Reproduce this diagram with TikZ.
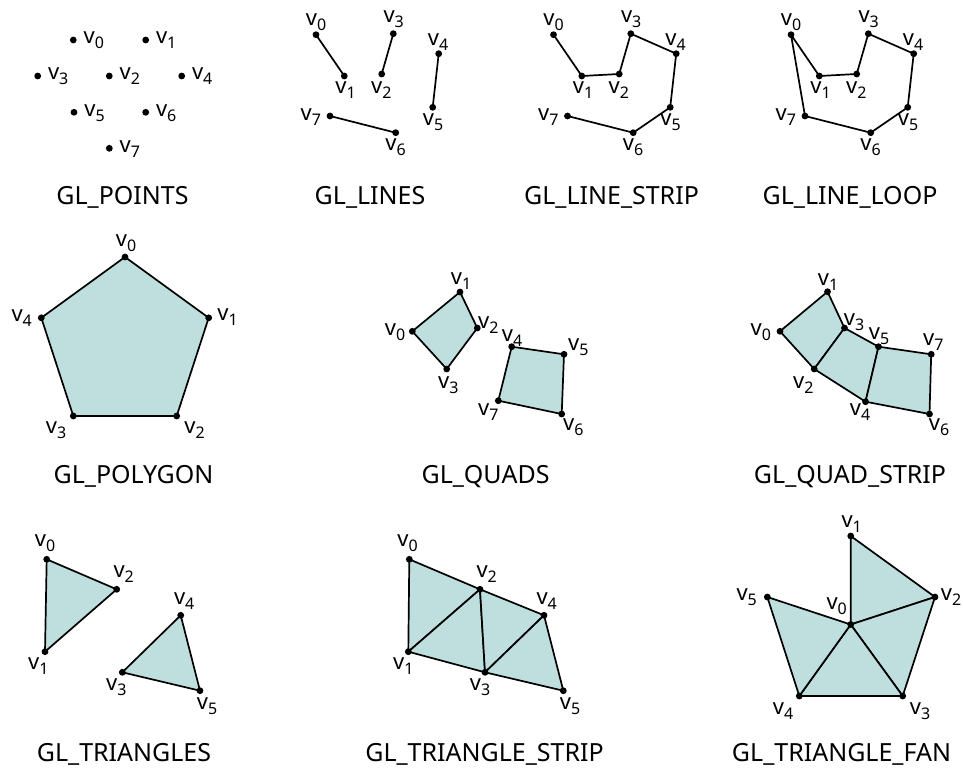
\documentclass[tikz,border=0pt]{standalone}
\usepackage{fontspec}
\setmainfont{Noto Sans}
\definecolor{fillc}{RGB}{191,223,222}
\tikzset{
  edge/.style={line width=1.7pt, line join=round, line cap=round},
  face/.style={fill=fillc, draw=black, line width=1.7pt, line join=round},
  lab/.style={inner sep=0pt, font=\fontsize{22}{22}\selectfont},
  gltitle/.style={inner sep=0pt, anchor=base, font=\fontsize{25}{25}\selectfont},
}
\newcommand{\vv}[1]{v\raisebox{-5pt}{\fontsize{16}{16}\selectfont #1}}
\newcommand{\vtxdots}[1]{\foreach \p in {#1} {\fill (\p) circle (3.4pt);}}
\newcommand{\linesetup}[1]{%
  \coordinate (#10) at (316,34.7);
  \coordinate (#11) at (344.3,76);
  \coordinate (#12) at (381.7,74);
  \coordinate (#13) at (393.3,33.7);
  \coordinate (#14) at (438.7,53.7);
  \coordinate (#15) at (432.7,107.3);
  \coordinate (#16) at (395.7,132.7);
  \coordinate (#17) at (330,116);
  \node[lab] (#1l0) at (316,22.5) {\vv{0}};
  \node[lab] (#1l1) at (345.5,90) {\vv{1}};
  \node[lab] (#1l2) at (381.3,90) {\vv{2}};
  \node[lab] (#1l3) at (393.7,19) {\vv{3}};
  \node[lab] (#1l4) at (438,42.5) {\vv{4}};
  \node[lab] (#1l5) at (433,122.5) {\vv{5}};
  \node[lab] (#1l6) at (395.5,146.7) {\vv{6}};
  \node[lab] (#1l7) at (310.8,116.7) {\vv{7}};
}
\begin{document}
\begin{tikzpicture}[x=1pt,y=-1pt]
\useasboundingbox (0,0) rectangle (963,771);

% ---------- GL_POINTS ----------
\coordinate (p0) at (73.3,40);
\coordinate (p1) at (145.7,40);
\coordinate (p2) at (109.3,76);
\coordinate (p3) at (37.7,76);
\coordinate (p4) at (181.7,76);
\coordinate (p5) at (74,112.3);
\coordinate (p6) at (145.7,112.3);
\coordinate (p7) at (109.3,148.3);
\foreach \i in {0,...,7} {
  \fill (p\i) circle (3.4pt);
  \node[lab] (pl\i) at ([shift={(20.5,0.5)}]p\i) {\vv{\i}};
}
\node[gltitle] (cap1) at (122.5,204) {GL\_POINTS};

% ---------- GL_LINES ----------
\linesetup{a}
\draw[edge] (a0) -- (a1);
\draw[edge] (a3) -- (a2);
\draw[edge] (a4) -- (a5);
\draw[edge] (a7) -- (a6);
\vtxdots{a0,a1,a2,a3,a4,a5,a6,a7}
\node[gltitle] (cap2) at (370,204) {GL\_LINES};

% ---------- GL_LINE_STRIP ----------
\begin{scope}[xshift=237.5]
\linesetup{b}
\draw[edge] (b0) -- (b1) -- (b2) -- (b3) -- (b4) -- (b5) -- (b6) -- (b7);
\vtxdots{b0,b1,b2,b3,b4,b5,b6,b7}
\end{scope}
\node[gltitle] (cap3) at (611.5,204) {GL\_LINE\_STRIP};

% ---------- GL_LINE_LOOP ----------
\begin{scope}[xshift=475]
\linesetup{c}
\draw[edge] (c0) -- (c1) -- (c2) -- (c3) -- (c4) -- (c5) -- (c6) -- (c7) -- cycle;
\vtxdots{c0,c1,c2,c3,c4,c5,c6,c7}
\end{scope}
\node[gltitle] (cap4) at (850,204) {GL\_LINE\_LOOP};

% ---------- GL_POLYGON ----------
\coordinate (g0) at (125,257);
\coordinate (g1) at (208.7,317.8);
\coordinate (g2) at (176.7,416);
\coordinate (g3) at (73.3,416);
\coordinate (g4) at (41.3,317.8);
\draw[face] (g0) -- (g1) -- (g2) -- (g3) -- (g4) -- cycle;
\vtxdots{g0,g1,g2,g3,g4}
\node[lab] (gl0) at (126,243.3) {\vv{0}};
\node[lab] (gl1) at (227.5,317.5) {\vv{1}};
\node[lab] (gl2) at (194.5,430) {\vv{2}};
\node[lab] (gl3) at (56,430) {\vv{3}};
\node[lab] (gl4) at (21.7,318) {\vv{4}};
\node[gltitle] (cap5) at (133.5,483) {GL\_POLYGON};

% ---------- GL_QUADS ----------
\coordinate (q0) at (412.3,331.3);
\coordinate (q1) at (460,292);
\coordinate (q2) at (477.3,328);
\coordinate (q3) at (446.7,369);
\coordinate (q4) at (511.7,346.7);
\coordinate (q5) at (564,354.3);
\coordinate (q6) at (561.7,414);
\coordinate (q7) at (498.3,400.7);
\draw[face] (q0) -- (q1) -- (q2) -- (q3) -- cycle;
\draw[face] (q4) -- (q5) -- (q6) -- (q7) -- cycle;
\vtxdots{q0,q1,q2,q3,q4,q5,q6,q7}
\node[lab] (ql0) at (395,331.7) {\vv{0}};
\node[lab] (ql1) at (461,281) {\vv{1}};
\node[lab] (ql2) at (488.3,325) {\vv{2}};
\node[lab] (ql3) at (448.3,385) {\vv{3}};
\node[lab] (ql4) at (512,338.3) {\vv{4}};
\node[lab] (ql5) at (578.3,346.7) {\vv{5}};
\node[lab] (ql6) at (573.3,427.5) {\vv{6}};
\node[lab] (ql7) at (488.3,412.5) {\vv{7}};
\node[gltitle] (cap6) at (485.5,483) {GL\_QUADS};

% ---------- GL_QUAD_STRIP ----------
\coordinate (s0) at (780,331.3);
\coordinate (s1) at (827.5,291.7);
\coordinate (s2) at (814.2,369);
\coordinate (s3) at (844.5,328);
\coordinate (s4) at (865.5,401.7);
\coordinate (s5) at (878.5,346.7);
\coordinate (s6) at (929.5,414);
\coordinate (s7) at (931.2,354.3);
\draw[face] (s0) -- (s1) -- (s3) -- (s2) -- cycle;
\draw[face] (s2) -- (s3) -- (s5) -- (s4) -- cycle;
\draw[face] (s4) -- (s5) -- (s7) -- (s6) -- cycle;
\vtxdots{s0,s1,s2,s3,s4,s5,s6,s7}
\node[lab] (sl0) at (760.8,331.7) {\vv{0}};
\node[lab] (sl1) at (828,281.7) {\vv{1}};
\node[lab] (sl2) at (803.3,385) {\vv{2}};
\node[lab] (sl3) at (854,321.7) {\vv{3}};
\node[lab] (sl4) at (860,411.7) {\vv{4}};
\node[lab] (sl5) at (879,336) {\vv{5}};
\node[lab] (sl6) at (939,427.5) {\vv{6}};
\node[lab] (sl7) at (933.3,342.5) {\vv{7}};
\node[gltitle] (cap7) at (850,483) {GL\_QUAD\_STRIP};

% ---------- GL_TRIANGLES ----------
\coordinate (t0) at (46.7,559.3);
\coordinate (t1) at (45,651.7);
\coordinate (t2) at (116.7,589.3);
\coordinate (t3) at (122.3,672.3);
\coordinate (t4) at (180.7,615.3);
\coordinate (t5) at (200,690.7);
\draw[face] (t0) -- (t1) -- (t2) -- cycle;
\draw[face] (t3) -- (t4) -- (t5) -- cycle;
\vtxdots{t0,t1,t2,t3,t4,t5}
\node[lab] (tl0) at (45,543.3) {\vv{0}};
\node[lab] (tl1) at (38.3,665.8) {\vv{1}};
\node[lab] (tl2) at (123.7,574) {\vv{2}};
\node[lab] (tl3) at (116.3,687.5) {\vv{3}};
\node[lab] (tl4) at (184.2,600.8) {\vv{4}};
\node[lab] (tl5) at (207,706) {\vv{5}};
\node[gltitle] (cap8) at (124,761) {GL\_TRIANGLES};

% ---------- GL_TRIANGLE_STRIP ----------
\coordinate (r0) at (409.3,559.3);
\coordinate (r1) at (408.3,651.7);
\coordinate (r2) at (480,589.3);
\coordinate (r3) at (485,672.3);
\coordinate (r4) at (544,615.3);
\coordinate (r5) at (563.3,690.7);
\draw[face] (r0) -- (r1) -- (r2) -- cycle;
\draw[face] (r2) -- (r1) -- (r3) -- cycle;
\draw[face] (r2) -- (r3) -- (r4) -- cycle;
\draw[face] (r4) -- (r3) -- (r5) -- cycle;
\vtxdots{r0,r1,r2,r3,r4,r5}
\node[lab] (rl0) at (407.5,543.3) {\vv{0}};
\node[lab] (rl1) at (403.3,665.8) {\vv{1}};
\node[lab] (rl2) at (486.7,574) {\vv{2}};
\node[lab] (rl3) at (480,687.5) {\vv{3}};
\node[lab] (rl4) at (546.7,600.8) {\vv{4}};
\node[lab] (rl5) at (570,706) {\vv{5}};
\node[gltitle] (cap9) at (484.5,761) {GL\_TRIANGLE\_STRIP};

% ---------- GL_TRIANGLE_FAN ----------
\coordinate (f0) at (850.7,624.5);
\coordinate (f1) at (850.7,536);
\coordinate (f2) at (935,597);
\coordinate (f3) at (902.7,696);
\coordinate (f4) at (799.3,696);
\coordinate (f5) at (767.3,597);
\draw[face] (f0) -- (f1) -- (f2) -- cycle;
\draw[face] (f0) -- (f2) -- (f3) -- cycle;
\draw[face] (f0) -- (f3) -- (f4) -- cycle;
\draw[face] (f0) -- (f4) -- (f5) -- cycle;
\vtxdots{f0,f1,f2,f3,f4,f5}
\node[lab] (fl0) at (836.7,605.8) {\vv{0}};
\node[lab] (fl1) at (851.7,524) {\vv{1}};
\node[lab] (fl2) at (951,597.5) {\vv{2}};
\node[lab] (fl3) at (920,711) {\vv{3}};
\node[lab] (fl4) at (783,711) {\vv{4}};
\node[lab] (fl5) at (746.7,597.5) {\vv{5}};
\node[gltitle] (cap10) at (841.5,761) {GL\_TRIANGLE\_FAN};
\end{tikzpicture}
\end{document}
